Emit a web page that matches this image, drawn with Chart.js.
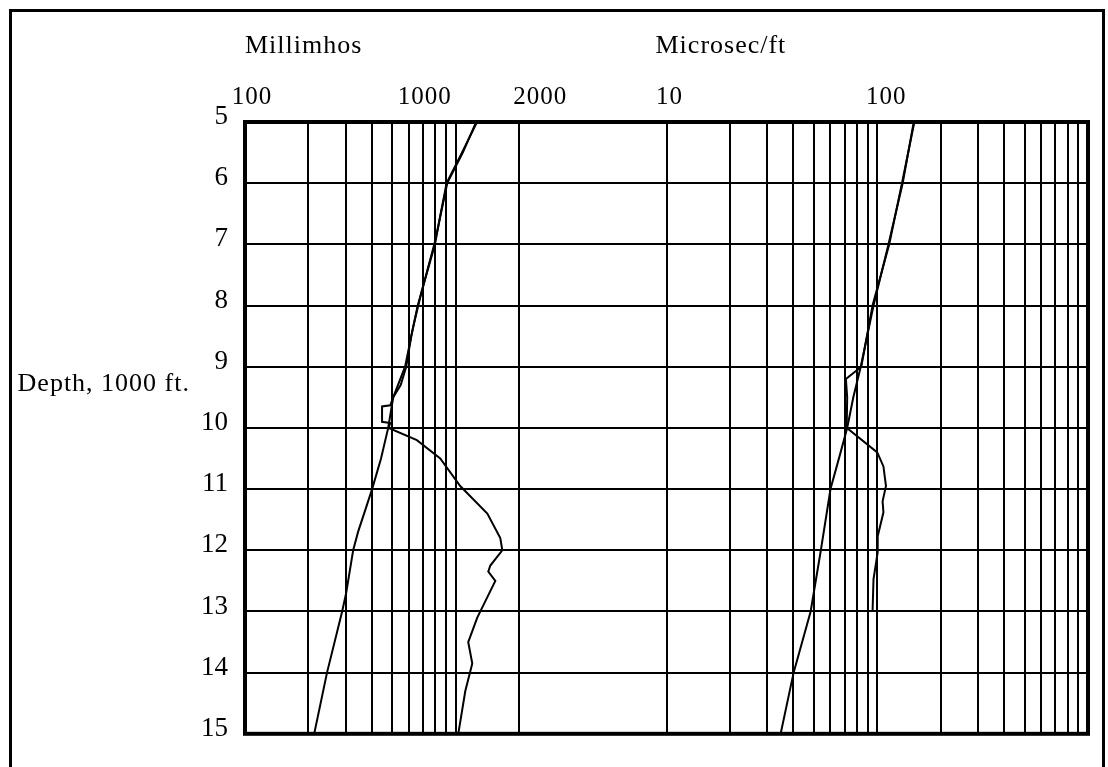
<!DOCTYPE html>
<html>
<head>
<meta charset="utf-8">
<title>Conductivity and sonic log vs depth</title>
<script src="https://cdn.jsdelivr.net/npm/chart.js@4.4.1/dist/chart.umd.min.js"></script>
<style>
  html, body { margin: 0; padding: 0; background: #fff; }
  #wrap { position: relative; width: 1108px; height: 767px; }
</style>
</head>
<body>
<div id="wrap"><canvas id="log-chart" width="1108" height="767"></canvas></div>
<script>
// depth in 1000 ft
const depthTicks = [5, 6, 7, 8, 9, 10, 11, 12, 13, 14, 15];

// left track: conductivity, millimhos
const condTrendDepth = [5, 5.5, 5.9, 6, 6.7, 7, 7.8, 8, 8.35, 9, 9.5, 10, 10.5, 11, 11.7, 12, 12.7, 13, 14, 15];
const condTrend = [1250, 1080, 942, 911, 826, 791, 686, 664, 628, 575, 505, 478, 442, 401, 344, 326, 302, 289, 245, 213];

const condLogDepth = [5, 5.5, 6, 6.5, 7, 7.5, 8, 8.5, 9, 9.3, 9.5, 9.63, 9.65, 9.9, 9.92, 10, 10.2, 10.5, 10.95, 11.4, 11.8, 12, 12.25, 12.35, 12.5, 12.9, 13.1, 13.5, 13.85, 14.3, 15];
const condLog = [1262, 1070, 905, 848, 797, 725, 660, 615, 582, 548, 505, 489, 447, 447, 489, 480, 654, 844, 1050, 1412, 1627, 1663, 1459, 1427, 1541, 1351, 1265, 1146, 1198, 1110, 1028];

// right track: sonic transit time, microsec/ft
const sonicTrendDepth = [5, 6, 7, 8, 9, 9.5, 10, 10.4, 11, 12, 13, 14, 15];
const sonicTrend = [149, 132, 113, 96, 83.5, 77, 72, 67, 60, 54, 48.3, 40.1, 34.8];

const sonicLogDepth = [5, 6, 7, 8, 9, 9.2, 9.5, 10, 10.4, 10.63, 10.95, 11.2, 11.38, 11.77, 12.03, 12.47, 13];
const sonicLog = [150, 131, 114, 95, 84, 71, 72, 71.6, 100, 107, 110, 106, 107, 100.5, 100.5, 96, 95];

// grid lines and header numbers
const millimhosGrid = [100, 200, 300, 400, 500, 600, 700, 800, 900, 1000, 2000];
const microsecGrid = [10, 20, 30, 40, 50, 60, 70, 80, 90, 100, 200, 300, 400, 500, 600, 700, 800, 900, 1000];
const millimhosLabels = [100, 1000, 2000];
const microsecLabels = [10, 100];

const FONT = '"Liberation Serif", "Times New Roman", serif';

function pts(depths, vals) {
  return depths.map((d, i) => ({ x: vals[i], y: d }));
}

function curve(label, depths, vals, axis) {
  return {
    label: label,
    data: pts(depths, vals),
    xAxisID: axis,
    showLine: true,
    borderColor: '#000',
    borderWidth: 2,
    pointRadius: 0,
    tension: 0
  };
}

// page frame + plot frame
const frames = {
  id: 'frames',
  beforeDraw(chart) {
    const ctx = chart.ctx;
    ctx.save();
    ctx.fillStyle = '#fff';
    ctx.fillRect(0, 0, chart.width, chart.height);
    ctx.strokeStyle = '#000';
    ctx.lineWidth = 3;
    ctx.beginPath();
    ctx.moveTo(10.5, chart.height);
    ctx.lineTo(10.5, 10.5);
    ctx.lineTo(1103.5, 10.5);
    ctx.lineTo(1103.5, chart.height);
    ctx.stroke();
    ctx.restore();
  },
  afterDraw(chart) {
    const a = chart.chartArea;
    const ctx = chart.ctx;
    ctx.save();
    ctx.strokeStyle = '#000';
    ctx.lineWidth = 4;
    ctx.strokeRect(a.left, a.top, a.right - a.left, a.bottom - a.top);
    ctx.restore();
  }
};

// titles and the hand placed scale numbers above the tracks
const headerText = {
  id: 'headerText',
  afterDraw(chart) {
    const ctx = chart.ctx;
    const xm = chart.scales.x, xs = chart.scales.x2;
    ctx.save();
    ctx.fillStyle = '#000';
    ctx.font = '26px ' + FONT;
    ctx.letterSpacing = '1px';
    ctx.textBaseline = 'alphabetic';
    ctx.textAlign = 'left';
    ctx.fillText('Millimhos', xm.getPixelForValue(100), 53);
    ctx.fillText('Microsec/ft', xs.getPixelForValue(10) - 11, 53);
    ctx.textAlign = 'right';
    ctx.fillText('Depth, 1000 ft.', 190, 391);

    ctx.font = '25px ' + FONT;
    ctx.textAlign = 'center';
    const nudgeL = { 100: 7, 1000: -31, 2000: 21 };
    millimhosLabels.forEach(v => {
      ctx.fillText(String(v), xm.getPixelForValue(v) + nudgeL[v], 104);
    });
    const nudgeR = { 10: 3, 100: 9 };
    microsecLabels.forEach(v => {
      ctx.fillText(String(v), xs.getPixelForValue(v) + nudgeR[v], 104);
    });
    ctx.restore();
  }
};

const gridStyle = { color: '#000', lineWidth: 2, drawTicks: false };

new Chart(document.getElementById('log-chart'), {
  type: 'scatter',
  data: {
    datasets: [
      curve('Conductivity trend', condTrendDepth, condTrend, 'x'),
      curve('Conductivity', condLogDepth, condLog, 'x'),
      curve('Sonic trend', sonicTrendDepth, sonicTrend, 'x2'),
      curve('Sonic', sonicLogDepth, sonicLog, 'x2')
    ]
  },
  options: {
    responsive: false,
    animation: false,
    layout: { padding: { top: 122, right: 20, bottom: 32, left: 0 } },
    scales: {
      x: {
        type: 'logarithmic',
        position: 'top',
        min: 100,
        max: 1000000,
        border: { display: false },
        grid: gridStyle,
        ticks: { display: false },
        afterBuildTicks: s => { s.ticks = millimhosGrid.map(v => ({ value: v })); },
        afterFit: s => { s.height = 0; }
      },
      x2: {
        type: 'logarithmic',
        position: 'top',
        min: 0.1,
        max: 1000,
        border: { display: false },
        grid: gridStyle,
        ticks: { display: false },
        afterBuildTicks: s => { s.ticks = microsecGrid.map(v => ({ value: v })); },
        afterFit: s => { s.height = 0; }
      },
      y: {
        type: 'linear',
        reverse: true,
        min: 5,
        max: 15,
        border: { display: false },
        grid: gridStyle,
        afterBuildTicks: s => { s.ticks = depthTicks.map(v => ({ value: v })); },
        afterFit: s => { s.width = 245; },
        ticks: {
          color: '#000',
          padding: 17,
          labelOffset: -5,
          font: { family: FONT, size: 27 }
        }
      }
    },
    plugins: {
      legend: { display: false },
      tooltip: { enabled: false }
    }
  },
  plugins: [frames, headerText]
});
</script>
</body>
</html>
